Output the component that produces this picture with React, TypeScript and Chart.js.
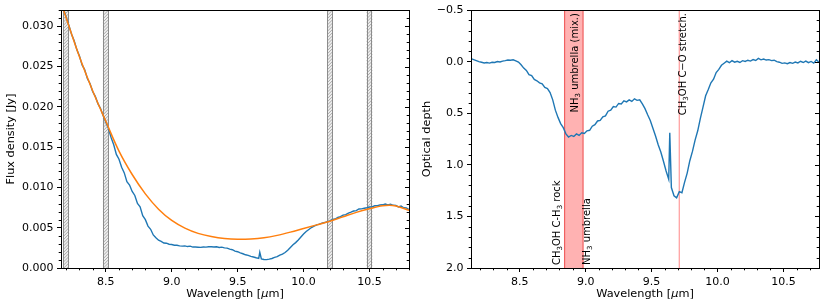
import React, { useEffect, useRef } from "react";
import { Chart, registerables } from "chart.js";
Chart.register(...registerables);

const FONT = '"DejaVu Sans", "Liberation Sans", sans-serif';

// ---------- Left panel: flux density ----------
const fluxWave = [8.16, 8.18, 8.2, 8.22, 8.24, 8.26, 8.28, 8.3, 8.32, 8.34, 8.36, 8.38, 8.4, 8.42, 8.44, 8.46, 8.48, 8.5, 8.52, 8.54, 8.56, 8.58, 8.6, 8.62, 8.64, 8.66, 8.68, 8.7, 8.72, 8.74, 8.76, 8.78, 8.8, 8.82, 8.84, 8.86, 8.88, 8.9, 8.92, 8.94, 8.96, 8.98, 9.0, 9.02, 9.04, 9.06, 9.08, 9.1, 9.12, 9.14, 9.16, 9.18, 9.2, 9.22, 9.24, 9.26, 9.28, 9.3, 9.32, 9.34, 9.36, 9.38, 9.4, 9.42, 9.44, 9.46, 9.48, 9.5, 9.52, 9.54, 9.56, 9.58, 9.6, 9.62, 9.64, 9.66, 9.668, 9.68, 9.7, 9.72, 9.74, 9.76, 9.78, 9.8, 9.82, 9.84, 9.86, 9.88, 9.9, 9.92, 9.94, 9.96, 9.98, 10.0, 10.02, 10.04, 10.06, 10.08, 10.1, 10.12, 10.14, 10.16, 10.18, 10.2, 10.22, 10.24, 10.26, 10.28, 10.3, 10.32, 10.34, 10.36, 10.38, 10.4, 10.42, 10.44, 10.46, 10.48, 10.5, 10.52, 10.54, 10.56, 10.58, 10.6, 10.62, 10.64, 10.66, 10.68, 10.7, 10.72, 10.74, 10.76, 10.78, 10.8];
// observed flux in mJy
const fluxMJy = [33.2, 32.1, 31.1, 30.1, 29.0, 28.2, 27.1, 26.3, 25.2, 24.6, 23.5, 22.9, 21.9, 21.3, 20.4, 19.8, 18.9, 18.1, 17.3, 16.2, 15.3, 14.1, 13.5, 12.5, 11.8, 10.7, 10.3, 9.5, 9.0, 8.0, 7.6, 6.5, 6.0, 5.2, 4.8, 4.1, 3.75, 3.45, 3.3, 3.1, 3.08, 2.95, 2.92, 2.83, 2.82, 2.74, 2.72, 2.74, 2.66, 2.71, 2.6, 2.6, 2.58, 2.56, 2.6, 2.59, 2.64, 2.63, 2.61, 2.63, 2.55, 2.59, 2.5, 2.46, 2.34, 2.27, 2.1, 2.02, 1.88, 1.77, 1.64, 1.56, 1.44, 1.36, 1.27, 1.2, 1.95, 1.14, 1.06, 1.04, 1.1, 1.18, 1.31, 1.4, 1.6, 1.72, 1.92, 2.2, 2.55, 2.88, 3.15, 3.48, 3.85, 4.22, 4.52, 4.78, 5.02, 5.18, 5.36, 5.44, 5.57, 5.64, 5.76, 5.84, 6.02, 6.08, 6.27, 6.38, 6.56, 6.63, 6.82, 6.93, 7.07, 7.12, 7.32, 7.33, 7.42, 7.48, 7.57, 7.58, 7.72, 7.74, 7.82, 7.84, 7.93, 7.84, 7.91, 7.78, 7.77, 7.58, 7.69, 7.48, 7.46, 7.26];
// continuum fit in mJy
const contWave = [8.16, 8.2, 8.3, 8.4, 8.5, 8.6, 8.7, 8.8, 8.9, 9.0, 9.1, 9.2, 9.3, 9.4, 9.5, 9.6, 9.7, 9.8, 9.9, 10.0, 10.1, 10.2, 10.3, 10.4, 10.5, 10.6, 10.65, 10.7, 10.8];
const contMJy = [33.0, 31.0, 26.2, 22.0, 18.2, 14.5, 11.6, 9.2, 7.3, 5.9, 4.95, 4.3, 3.9, 3.65, 3.57, 3.6, 3.75, 4.05, 4.45, 4.9, 5.35, 5.8, 6.35, 6.9, 7.35, 7.72, 7.78, 7.7, 7.17];
const hatchBands = [[8.178, 8.222], [8.478, 8.522], [10.178, 10.222], [10.478, 10.522]];
const waveMajorTicks = [8.5, 9.0, 9.5, 10.0, 10.5];
const leftWaveMinorTicks = [8.2, 8.3, 8.4, 8.6, 8.7, 8.8, 8.9, 9.1, 9.2, 9.3, 9.4, 9.6, 9.7, 9.8, 9.9, 10.1, 10.2, 10.3, 10.4, 10.6, 10.7, 10.8];
const fluxMajorTicks = [0, 0.005, 0.01, 0.015, 0.02, 0.025, 0.03];
const fluxMinorTicksMJy = [1, 2, 3, 4, 6, 7, 8, 9, 11, 12, 13, 14, 16, 17, 18, 19, 21, 22, 23, 24, 26, 27, 28, 29, 31, 32];

// ---------- Right panel: optical depth ----------
const tauWave = [8.13, 8.15, 8.17, 8.19, 8.21, 8.23, 8.25, 8.27, 8.29, 8.31, 8.33, 8.35, 8.37, 8.39, 8.41, 8.43, 8.45, 8.47, 8.49, 8.51, 8.53, 8.55, 8.57, 8.59, 8.61, 8.63, 8.65, 8.67, 8.69, 8.71, 8.73, 8.75, 8.77, 8.79, 8.81, 8.83, 8.85, 8.87, 8.89, 8.91, 8.93, 8.95, 8.97, 8.99, 9.01, 9.03, 9.05, 9.07, 9.09, 9.11, 9.13, 9.15, 9.17, 9.19, 9.21, 9.23, 9.25, 9.27, 9.29, 9.31, 9.33, 9.35, 9.37, 9.39, 9.41, 9.43, 9.45, 9.47, 9.49, 9.51, 9.53, 9.55, 9.57, 9.59, 9.61, 9.63, 9.638, 9.65, 9.67, 9.69, 9.71, 9.73, 9.75, 9.77, 9.79, 9.81, 9.83, 9.85, 9.87, 9.89, 9.91, 9.93, 9.95, 9.97, 9.99, 10.01, 10.03, 10.05, 10.07, 10.09, 10.11, 10.13, 10.15, 10.17, 10.19, 10.21, 10.23, 10.25, 10.27, 10.29, 10.31, 10.33, 10.35, 10.37, 10.39, 10.41, 10.43, 10.45, 10.47, 10.49, 10.51, 10.53, 10.55, 10.57, 10.59, 10.61, 10.63, 10.65, 10.67, 10.69, 10.71, 10.73, 10.75, 10.77];
const tauValues = [-0.03, -0.02, -0.01, 0.0, 0.006, 0.012, 0.008, 0.014, 0.006, 0.008, -0.002, 0.003, -0.006, -0.01, -0.016, -0.014, -0.018, -0.008, 0.004, 0.03, 0.062, 0.085, 0.125, 0.135, 0.172, 0.185, 0.205, 0.215, 0.25, 0.26, 0.3, 0.37, 0.47, 0.54, 0.6, 0.64, 0.7, 0.73, 0.715, 0.725, 0.7, 0.715, 0.69, 0.695, 0.67, 0.665, 0.625, 0.61, 0.575, 0.57, 0.535, 0.525, 0.48, 0.47, 0.435, 0.44, 0.405, 0.41, 0.38, 0.39, 0.37, 0.385, 0.36, 0.375, 0.37, 0.41, 0.455, 0.515, 0.57, 0.645, 0.72, 0.805, 0.875, 0.965, 1.06, 1.14, 0.69, 1.22, 1.3, 1.32, 1.26, 1.27, 1.17, 1.08, 0.96, 0.87, 0.76, 0.67, 0.55, 0.44, 0.33, 0.27, 0.205, 0.17, 0.105, 0.075, 0.035, 0.015, -0.005, 0.01, -0.01, 0.005, -0.004, 0.008, -0.01, -0.002, -0.014, -0.006, -0.02, -0.012, -0.032, -0.018, -0.026, -0.016, -0.02, -0.01, -0.014, 0.0, 0.005, 0.016, 0.012, 0.02, 0.008, 0.016, 0.004, 0.012, -0.004, 0.008, -0.006, 0.01, -0.002, 0.014, -0.018, 0.006];
const tauMajorTicks = [-0.5, 0.0, 0.5, 1.0, 1.5, 2.0];
const tauMinorTicks = [-0.4, -0.3, -0.2, -0.1, 0.1, 0.2, 0.3, 0.4, 0.6, 0.7, 0.8, 0.9, 1.1, 1.2, 1.3, 1.4, 1.6, 1.7, 1.8, 1.9];
const rightWaveMinorTicks = [8.2, 8.3, 8.4, 8.6, 8.7, 8.8, 8.9, 9.1, 9.2, 9.3, 9.4, 9.6, 9.7, 9.8, 9.9, 10.1, 10.2, 10.3, 10.4, 10.6, 10.7];
const redBand = [8.84, 8.98];
const redLine = 9.71;

type Seg = { t: string; sub?: boolean; it?: boolean };

const xTitle: Seg[] = [{ t: "Wavelength [" }, { t: "μ", it: true }, { t: "m]" }];
const leftYTitle: Seg[] = [{ t: "Flux density [Jy]" }];
const rightYTitle: Seg[] = [{ t: "Optical depth" }];

const annotations: { segs: Seg[]; at: number; dx: number; anchor: "bottom" | "top" }[] = [
  { segs: [{ t: "CH" }, { t: "3", sub: true }, { t: "OH C-H" }, { t: "3", sub: true }, { t: " rock" }], at: redBand[0], dx: -7, anchor: "bottom" },
  { segs: [{ t: "NH" }, { t: "3", sub: true }, { t: " umbrella" }], at: redBand[1], dx: 4.5, anchor: "bottom" },
  { segs: [{ t: "NH" }, { t: "3", sub: true }, { t: " umbrella (mix.)" }], at: redBand[1], dx: -7.5, anchor: "top" },
  { segs: [{ t: "CH" }, { t: "3", sub: true }, { t: "OH C−O stretch." }], at: redLine, dx: 4.3, anchor: "top" },
];

function drawRich(ctx: CanvasRenderingContext2D, segs: Seg[], size: number, align: "left" | "center" | "right") {
  const fontOf = (s: Seg) => `${s.it ? "italic " : ""}${s.sub ? size * 0.7 : size}px ${FONT}`;
  let total = 0;
  for (const s of segs) {
    ctx.font = fontOf(s);
    total += ctx.measureText(s.t).width;
  }
  let x = align === "left" ? 0 : align === "center" ? -total / 2 : -total;
  ctx.textAlign = "left";
  ctx.textBaseline = "middle";
  for (const s of segs) {
    ctx.font = fontOf(s);
    ctx.fillText(s.t, x, s.sub ? size * 0.25 : 0);
    x += ctx.measureText(s.t).width;
  }
}

function makeAxis(min: number, max: number, majors: number[], fmt: (v: number) => string, fitFn: (s: any) => void, reverse = false) {
  return {
    type: "linear",
    min,
    max,
    reverse,
    afterBuildTicks: (s: any) => {
      s.ticks = majors.map((v) => ({ value: v }));
    },
    afterFit: fitFn,
    ticks: {
      autoSkip: false,
      maxRotation: 0,
      minRotation: 0,
      padding: 3.5,
      color: "#000",
      font: { family: FONT, size: 11 },
      callback: (v: any) => fmt(Number(v)),
    },
    grid: {
      display: true,
      drawOnChartArea: false,
      drawTicks: true,
      tickLength: 4,
      tickWidth: 1,
      tickColor: "#000",
    },
    border: { display: false },
  };
}

function decorPlugin(o: {
  xMinor: number[];
  yMajor: number[];
  yMinor: number[];
  yTitle: Seg[];
  yTitleX: number;
  under: (chart: any) => void;
  over?: (chart: any) => void;
}) {
  return {
    id: "decor",
    beforeDatasetsDraw(chart: any) {
      o.under(chart);
    },
    afterDraw(chart: any) {
      const ctx: CanvasRenderingContext2D = chart.ctx;
      const ca = chart.chartArea;
      const xs = chart.scales.x;
      const ys = chart.scales.y;
      if (o.over) o.over(chart);
      ctx.save();
      ctx.strokeStyle = "#000";
      ctx.lineWidth = 1;
      ctx.beginPath();
      for (const v of o.xMinor) {
        const p = Math.round(xs.getPixelForValue(v)) + 0.5;
        ctx.moveTo(p, ca.bottom);
        ctx.lineTo(p, ca.bottom + 2.3);
      }
      for (const v of o.yMinor) {
        const p = Math.round(ys.getPixelForValue(v)) + 0.5;
        ctx.moveTo(ca.left, p);
        ctx.lineTo(ca.left - 2.3, p);
        ctx.moveTo(ca.right, p);
        ctx.lineTo(ca.right - 2.3, p);
      }
      for (const v of o.yMajor) {
        const p = Math.round(ys.getPixelForValue(v)) + 0.5;
        ctx.moveTo(ca.right, p);
        ctx.lineTo(ca.right - 4, p);
      }
      ctx.stroke();
      const l = Math.round(ca.left) + 0.5;
      const t = Math.round(ca.top) + 0.5;
      const r = Math.round(ca.right) + 0.5;
      const b = Math.round(ca.bottom) + 0.5;
      ctx.strokeRect(l, t, r - l, b - t);
      ctx.fillStyle = "#000";
      ctx.save();
      ctx.translate((ca.left + ca.right) / 2, 294.5);
      drawRich(ctx, xTitle, 11.3, "center");
      ctx.restore();
      ctx.save();
      ctx.translate(o.yTitleX, (ca.top + ca.bottom) / 2);
      ctx.rotate(-Math.PI / 2);
      drawRich(ctx, o.yTitle, 11.3, "center");
      ctx.restore();
      ctx.restore();
    },
  };
}

function baseOptions(xAxis: any, yAxis: any, padRight: number) {
  return {
    responsive: false,
    animation: false,
    layout: { padding: { left: 0, right: padRight, top: 9, bottom: 0 } },
    plugins: { legend: { display: false }, tooltip: { enabled: false }, title: { display: false } },
    scales: { x: xAxis, y: yAxis },
    elements: { point: { radius: 0 } },
  };
}

function leftConfig(): any {
  const xAxis = makeAxis(8.16, 10.8, waveMajorTicks, (v) => v.toFixed(1), (s) => { s.height = 39; });
  const yAxis = makeAxis(0, 0.032, fluxMajorTicks, (v) => v.toFixed(3), (s) => { s.width = 61; });
  return {
    type: "scatter",
    data: {
      datasets: [
        {
          data: fluxWave.map((x, i) => ({ x, y: fluxMJy[i] / 1000 })),
          showLine: true,
          borderColor: "#1f77b4",
          borderWidth: 1.4,
          pointRadius: 0,
          tension: 0,
          clip: 0,
          order: 2,
        },
        {
          data: contWave.map((x, i) => ({ x, y: contMJy[i] / 1000 })),
          showLine: true,
          borderColor: "#ff7f0e",
          borderWidth: 1.5,
          pointRadius: 0,
          tension: 0.4,
          cubicInterpolationMode: "monotone",
          clip: 0,
          order: 1,
        },
      ],
    },
    options: baseOptions(xAxis, yAxis, 6),
    plugins: [
      decorPlugin({
        xMinor: leftWaveMinorTicks,
        yMajor: fluxMajorTicks,
        yMinor: fluxMinorTicksMJy.map((v) => v / 1000),
        yTitle: leftYTitle,
        yTitleX: 11,
        under: (chart: any) => {
          const ctx: CanvasRenderingContext2D = chart.ctx;
          const { top, bottom } = chart.chartArea;
          const xs = chart.scales.x;
          for (const [a, b] of hatchBands) {
            const x0 = xs.getPixelForValue(a);
            const x1 = xs.getPixelForValue(b);
            const w = x1 - x0;
            ctx.save();
            ctx.beginPath();
            ctx.rect(x0, top, w, bottom - top);
            ctx.clip();
            ctx.fillStyle = "#eeeeee";
            ctx.fillRect(x0, top, w, bottom - top);
            ctx.strokeStyle = "#9a9a9a";
            ctx.lineWidth = 0.8;
            ctx.beginPath();
            for (let y = top - w - 6; y < bottom + w + 6; y += 3.2) {
              ctx.moveTo(x0 - 2, y + w + 4);
              ctx.lineTo(x1 + 2, y);
            }
            ctx.stroke();
            ctx.restore();
            ctx.save();
            ctx.strokeStyle = "#8c8c8c";
            ctx.lineWidth = 1;
            ctx.beginPath();
            ctx.moveTo(Math.round(x0) + 0.5, top);
            ctx.lineTo(Math.round(x0) + 0.5, bottom);
            ctx.moveTo(Math.round(x1) - 0.5, top);
            ctx.lineTo(Math.round(x1) - 0.5, bottom);
            ctx.stroke();
            ctx.restore();
          }
        },
      }),
    ],
  };
}

function rightConfig(): any {
  const xAxis = makeAxis(8.13, 10.77, waveMajorTicks, (v) => v.toFixed(1), (s) => { s.height = 39; });
  const yAxis = makeAxis(-0.5, 2.0, tauMajorTicks, (v) => v.toFixed(1).replace("-", "−"), (s) => { s.width = 56; }, true);
  return {
    type: "scatter",
    data: {
      datasets: [
        {
          data: tauWave.map((x, i) => ({ x, y: tauValues[i] })),
          showLine: true,
          borderColor: "#1f77b4",
          borderWidth: 1.4,
          pointRadius: 0,
          tension: 0,
          clip: 0,
        },
      ],
    },
    options: baseOptions(xAxis, yAxis, 11),
    plugins: [
      decorPlugin({
        xMinor: rightWaveMinorTicks,
        yMajor: tauMajorTicks,
        yMinor: tauMinorTicks,
        yTitle: rightYTitle,
        yTitleX: 12,
        under: (chart: any) => {
          const ctx: CanvasRenderingContext2D = chart.ctx;
          const { top, bottom } = chart.chartArea;
          const xs = chart.scales.x;
          const x0 = xs.getPixelForValue(redBand[0]);
          const x1 = xs.getPixelForValue(redBand[1]);
          ctx.save();
          ctx.fillStyle = "rgba(255,0,0,0.3)";
          ctx.fillRect(x0, top, x1 - x0, bottom - top);
          ctx.strokeStyle = "#f06060";
          ctx.lineWidth = 1.2;
          ctx.beginPath();
          ctx.moveTo(x0, top);
          ctx.lineTo(x0, bottom);
          ctx.moveTo(x1, top);
          ctx.lineTo(x1, bottom);
          ctx.stroke();
          const xl = xs.getPixelForValue(redLine);
          ctx.strokeStyle = "#ff9a9a";
          ctx.lineWidth = 1.2;
          ctx.beginPath();
          ctx.moveTo(xl, top);
          ctx.lineTo(xl, bottom);
          ctx.stroke();
          ctx.restore();
        },
        over: (chart: any) => {
          const ctx: CanvasRenderingContext2D = chart.ctx;
          const { top, bottom } = chart.chartArea;
          const xs = chart.scales.x;
          ctx.save();
          ctx.fillStyle = "#000";
          for (const a of annotations) {
            const px = xs.getPixelForValue(a.at) + a.dx;
            ctx.save();
            if (a.anchor === "bottom") {
              ctx.translate(px, bottom - 3);
              ctx.rotate(-Math.PI / 2);
              drawRich(ctx, a.segs, 10, "left");
            } else {
              ctx.translate(px, top + 3);
              ctx.rotate(-Math.PI / 2);
              drawRich(ctx, a.segs, 10, "right");
            }
            ctx.restore();
          }
          ctx.restore();
        },
      }),
    ],
  };
}

export default function App() {
  const leftRef = useRef<HTMLCanvasElement>(null);
  const rightRef = useRef<HTMLCanvasElement>(null);
  useEffect(() => {
    const c1 = new Chart(leftRef.current as HTMLCanvasElement, leftConfig());
    const c2 = new Chart(rightRef.current as HTMLCanvasElement, rightConfig());
    return () => {
      c1.destroy();
      c2.destroy();
    };
  }, []);
  return (
    <div style={{ position: "absolute", left: 0, top: 0, width: 830, height: 307, background: "#fff" }}>
      <canvas ref={leftRef} width={415} height={307} style={{ position: "absolute", left: 0, top: 0 }} />
      <canvas ref={rightRef} width={415} height={307} style={{ position: "absolute", left: 415, top: 0 }} />
    </div>
  );
}
